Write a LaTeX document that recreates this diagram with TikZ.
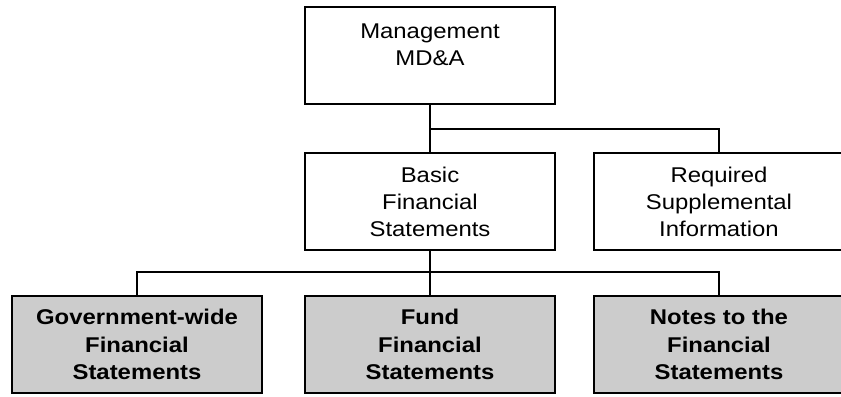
\documentclass[tikz,border=0pt]{standalone}
\usepackage{fontspec}
\setmainfont{Liberation Sans}[FakeStretch=1.12]

\begin{document}
\begin{tikzpicture}[x=0.75pt, y=-0.75pt,
    box/.style={draw, line width=1.4pt, minimum width=188pt, minimum height=72.75pt, inner sep=0pt, align=center, font=\fontsize{16}{20.3}\selectfont},
    shadedbox/.style={box, fill=black!20, font=\bfseries\fontsize{16}{20.5}\selectfont},
    link/.style={line width=1.4pt}]
    \clip (0,0) rectangle (841,396);

    % Management on top
    \node[box, text depth=16pt] (mgmt) at (430,55.5) {Management\\MD\&A};

    % Second row
    \node[box] (basic) at (430,201.5) {Basic\\Financial\\Statements};
    \node[box] (rsi) at (719,201.5) {Required\\Supplemental\\Information};
    \coordinate (split) at (430,129);
    \draw[link] (mgmt.south) -- (split) -- (basic.north);
    \draw[link] (split) -| (rsi.north);

    % Basic statements split into three parts
    \node[shadedbox] (gov) at (137,344.5) {Government-wide\\Financial\\Statements};
    \node[shadedbox] (fund) at (430,344.5) {Fund\\Financial\\Statements};
    \node[shadedbox] (notes) at (719,344.5) {Notes to the\\Financial\\Statements};
    \coordinate (bus) at (430,272);
    \draw[link] (basic.south) -- (bus) -- (fund.north);
    \draw[link] (gov.north) |- (bus) -| (notes.north);
\end{tikzpicture}
\end{document}
